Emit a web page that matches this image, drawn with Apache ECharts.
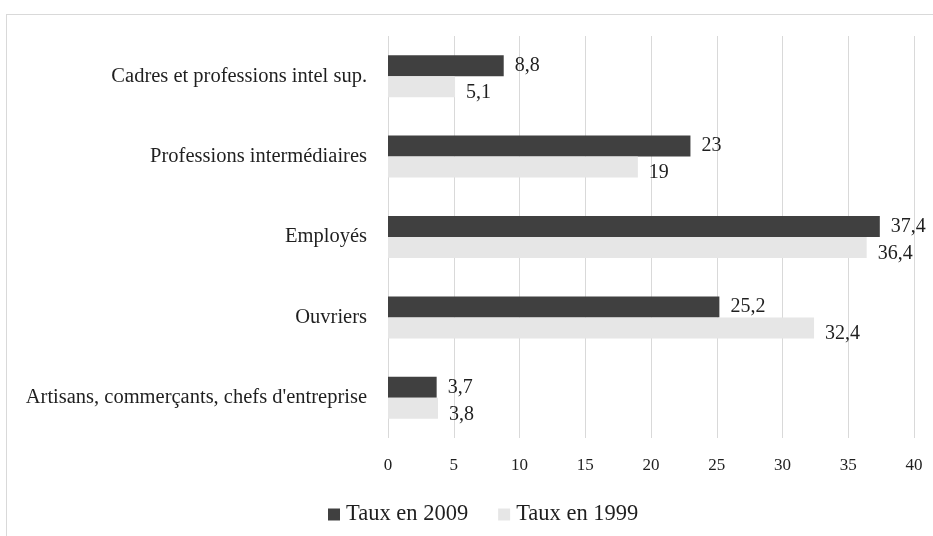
<!DOCTYPE html>
<html>
<head>
<meta charset="utf-8">
<script src="https://cdn.jsdelivr.net/npm/echarts@6/dist/echarts.min.js"></script>
<style>
  html, body { margin: 0; padding: 0; background: #fff; overflow: hidden; }
  .frame { position: absolute; left: 6px; top: 14px; width: 1000px; height: 600px; border: 1px solid #d9d9d9; }
  #chart { position: absolute; left: 0; top: 0; width: 933px; height: 536px; }
</style>
</head>
<body>
<div class="frame"></div>
<div id="chart"></div>
<script>
  var categories = ['Cadres et professions intel sup.', 'Professions intermédiaires', 'Employés', 'Ouvriers', "Artisans, commerçants, chefs d'entreprise"];
  var taux2009 = [8.8, 23, 37.4, 25.2, 3.7];
  var taux1999 = [5.1, 19, 36.4, 32.4, 3.8];
  var xTicks = [0, 40, 5];   // min, max, interval

  var font = '"Liberation Serif", serif';
  var txt = '#1f1f1f';

  function frNum(p) { return String(p.value).replace('.', ','); }

  var chart = echarts.init(document.getElementById('chart'));
  chart.setOption({
    animation: false,
    textStyle: { fontFamily: font },
    grid: { left: 388, right: 19, top: 36, bottom: 98, containLabel: false },
    legend: {
      left: 323, top: 498,
      icon: 'rect', itemWidth: 12, itemHeight: 12, itemGap: 30,
      textStyle: { fontFamily: font, fontSize: 22.5, color: txt, padding: [0, 0, 0, 1] },
      data: ['Taux en 2009', 'Taux en 1999']
    },
    xAxis: {
      type: 'value', min: xTicks[0], max: xTicks[1], interval: xTicks[2],
      axisLine: { show: false }, axisTick: { show: false },
      axisLabel: { fontFamily: font, fontSize: 17, color: txt, margin: 19 },
      splitLine: { lineStyle: { color: '#d9d9d9', width: 1 } }
    },
    yAxis: {
      type: 'category', inverse: true, data: categories,
      axisLine: { show: false }, axisTick: { show: false },
      axisLabel: { fontFamily: font, fontSize: 20.5, color: txt, margin: 21 }
    },
    series: [
      {
        name: 'Taux en 2009', type: 'bar', data: taux2009,
        barWidth: 21, barGap: '0%',
        itemStyle: { color: '#404040' },
        label: { show: true, position: 'right', distance: 11, fontFamily: font, fontSize: 20, color: txt, formatter: frNum }
      },
      {
        name: 'Taux en 1999', type: 'bar', data: taux1999,
        barWidth: 21, barGap: '0%',
        itemStyle: { color: '#e6e6e6' },
        label: { show: true, position: 'right', distance: 11, offset: [0, 6], fontFamily: font, fontSize: 20, color: txt, formatter: frNum }
      }
    ]
  });
</script>
</body>
</html>
